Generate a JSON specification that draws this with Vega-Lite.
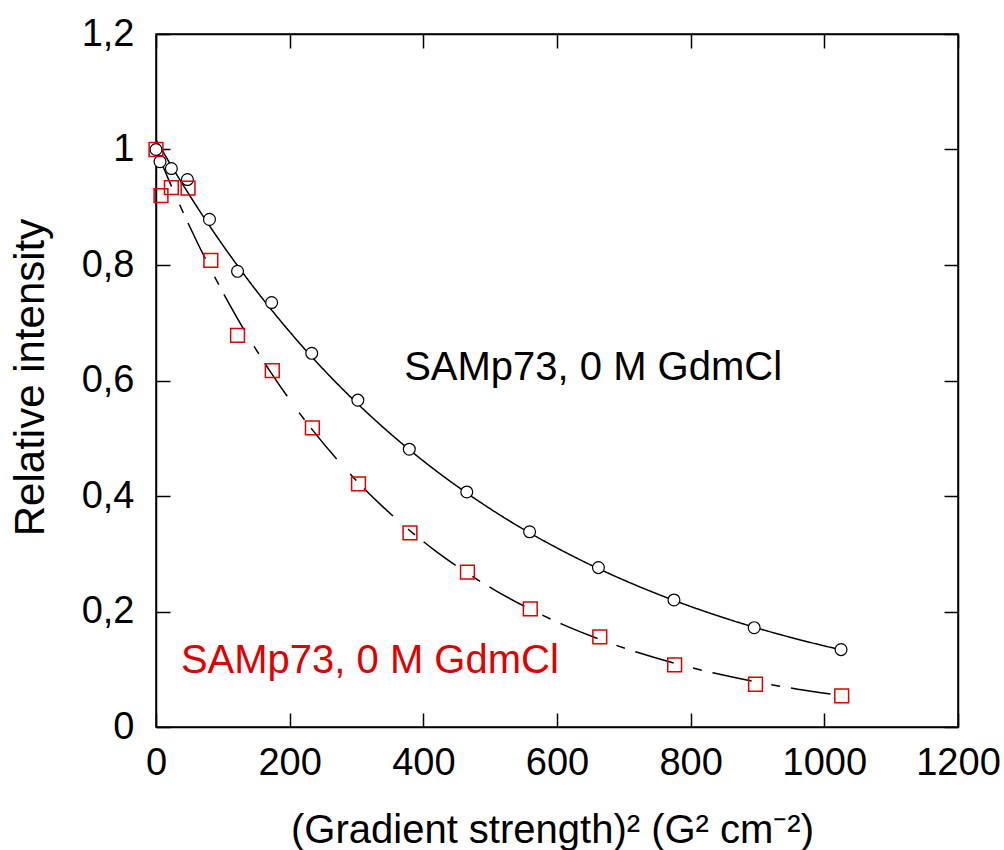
{
  "$schema": "https://vega.github.io/schema/vega-lite/v6.json",
  "width": 802,
  "height": 693,
  "autosize": {"type": "none"},
  "padding": {"left": 156, "top": 34, "right": 46, "bottom": 123},
  "background": "white",
  "config": {
    "view": {"stroke": "black", "strokeWidth": 1.5},
    "font": "Liberation Sans",
    "axis": {"grid": false, "labelFont": "Liberation Sans", "titleFont": "Liberation Sans", "labelColor": "black", "titleColor": "black", "domainColor": "black", "domainWidth": 1.5, "tickColor": "black", "tickWidth": 1.5}
  },
  "datasets": {
    "points": [
      {"g2": 0, "intensity": 1.0, "series": "circle"},
      {"g2": 6, "intensity": 0.979, "series": "circle"},
      {"g2": 23, "intensity": 0.967, "series": "circle"},
      {"g2": 47, "intensity": 0.948, "series": "circle"},
      {"g2": 80, "intensity": 0.879, "series": "circle"},
      {"g2": 122, "intensity": 0.789, "series": "circle"},
      {"g2": 173, "intensity": 0.735, "series": "circle"},
      {"g2": 233, "intensity": 0.647, "series": "circle"},
      {"g2": 302, "intensity": 0.566, "series": "circle"},
      {"g2": 379, "intensity": 0.481, "series": "circle"},
      {"g2": 465, "intensity": 0.407, "series": "circle"},
      {"g2": 559, "intensity": 0.338, "series": "circle"},
      {"g2": 662, "intensity": 0.276, "series": "circle"},
      {"g2": 775, "intensity": 0.22, "series": "circle"},
      {"g2": 895, "intensity": 0.172, "series": "circle"},
      {"g2": 1025, "intensity": 0.134, "series": "circle"},
      {"g2": 0, "intensity": 1.0, "series": "square"},
      {"g2": 7.5, "intensity": 0.92, "series": "square"},
      {"g2": 23, "intensity": 0.934, "series": "square"},
      {"g2": 48, "intensity": 0.933, "series": "square"},
      {"g2": 82, "intensity": 0.808, "series": "square"},
      {"g2": 122, "intensity": 0.678, "series": "square"},
      {"g2": 174, "intensity": 0.617, "series": "square"},
      {"g2": 234, "intensity": 0.518, "series": "square"},
      {"g2": 303, "intensity": 0.421, "series": "square"},
      {"g2": 380, "intensity": 0.336, "series": "square"},
      {"g2": 466, "intensity": 0.268, "series": "square"},
      {"g2": 560, "intensity": 0.2045, "series": "square"},
      {"g2": 664, "intensity": 0.156, "series": "square"},
      {"g2": 776, "intensity": 0.1075, "series": "square"},
      {"g2": 897, "intensity": 0.074, "series": "square"},
      {"g2": 1026, "intensity": 0.054, "series": "square"}
    ],
    "fit": [
      {"g2": 0, "fit": 1.017, "series": "circle"},
      {"g2": 20, "fit": 0.9775, "series": "circle"},
      {"g2": 40, "fit": 0.9396, "series": "circle"},
      {"g2": 60, "fit": 0.9031, "series": "circle"},
      {"g2": 80, "fit": 0.868, "series": "circle"},
      {"g2": 100, "fit": 0.8343, "series": "circle"},
      {"g2": 122, "fit": 0.7988, "series": "circle"},
      {"g2": 150, "fit": 0.7557, "series": "circle"},
      {"g2": 174, "fit": 0.7206, "series": "circle"},
      {"g2": 200, "fit": 0.6844, "series": "circle"},
      {"g2": 233, "fit": 0.6411, "series": "circle"},
      {"g2": 270, "fit": 0.5958, "series": "circle"},
      {"g2": 302, "fit": 0.5593, "series": "circle"},
      {"g2": 340, "fit": 0.5188, "series": "circle"},
      {"g2": 380, "fit": 0.4793, "series": "circle"},
      {"g2": 420, "fit": 0.4428, "series": "circle"},
      {"g2": 465, "fit": 0.4051, "series": "circle"},
      {"g2": 510, "fit": 0.3705, "series": "circle"},
      {"g2": 559, "fit": 0.3362, "series": "circle"},
      {"g2": 610, "fit": 0.304, "series": "circle"},
      {"g2": 663, "fit": 0.2737, "series": "circle"},
      {"g2": 720, "fit": 0.2445, "series": "circle"},
      {"g2": 775, "fit": 0.2193, "series": "circle"},
      {"g2": 835, "fit": 0.1947, "series": "circle"},
      {"g2": 896, "fit": 0.1725, "series": "circle"},
      {"g2": 960, "fit": 0.152, "series": "circle"},
      {"g2": 1025, "fit": 0.1336, "series": "circle"},
      {"g2": 0, "fit": 1.0, "series": "square"},
      {"g2": 20, "fit": 0.9448, "series": "square"},
      {"g2": 40, "fit": 0.8926, "series": "square"},
      {"g2": 60, "fit": 0.8433, "series": "square"},
      {"g2": 80, "fit": 0.7968, "series": "square"},
      {"g2": 100, "fit": 0.7528, "series": "square"},
      {"g2": 122, "fit": 0.7072, "series": "square"},
      {"g2": 150, "fit": 0.6531, "series": "square"},
      {"g2": 174, "fit": 0.6101, "series": "square"},
      {"g2": 200, "fit": 0.5667, "series": "square"},
      {"g2": 234, "fit": 0.5145, "series": "square"},
      {"g2": 270, "fit": 0.4645, "series": "square"},
      {"g2": 302, "fit": 0.4241, "series": "square"},
      {"g2": 340, "fit": 0.3808, "series": "square"},
      {"g2": 380, "fit": 0.3399, "series": "square"},
      {"g2": 420, "fit": 0.3033, "series": "square"},
      {"g2": 466, "fit": 0.2662, "series": "square"},
      {"g2": 510, "fit": 0.235, "series": "square"},
      {"g2": 560, "fit": 0.2039, "series": "square"},
      {"g2": 610, "fit": 0.1769, "series": "square"},
      {"g2": 663, "fit": 0.1521, "series": "square"},
      {"g2": 720, "fit": 0.1294, "series": "square"},
      {"g2": 776, "fit": 0.1104, "series": "square"},
      {"g2": 835, "fit": 0.0934, "series": "square"},
      {"g2": 896, "fit": 0.0785, "series": "square"},
      {"g2": 960, "fit": 0.0655, "series": "square"},
      {"g2": 1026, "fit": 0.0543, "series": "square"}
    ],
    "labels": [
      {"label": "SAMp73, 0 M GdmCl", "g2": 654, "intensity": 0.601, "series": "circle"},
      {"label": "SAMp73, 0 M GdmCl", "g2": 320, "intensity": 0.093, "series": "square"}
    ]
  },
  "resolve": {"axis": {"x": "independent", "y": "independent"}},
  "layer": [
    {
      "data": {"name": "fit"},
      "mark": {"type": "line", "interpolate": "monotone", "strokeWidth": 1.5, "color": "black"},
      "encoding": {
        "x": {"field": "g2", "type": "quantitative", "scale": {"domain": [0, 1200], "nice": false},
          "axis": {"orient": "bottom", "values": [0, 200, 400, 600, 800, 1000, 1200], "format": "d", "tickSize": -14, "labelFontSize": 38, "labelPadding": 31, "labelFlush": false, "labelOverlap": false,
            "title": "(Gradient strength)² (G² cm⁻²)", "titleFontSize": 40, "titleFontWeight": "normal", "titleX": 396, "titleY": 115, "titleBaseline": "alphabetic", "titleAlign": "center", "titleAnchor": null}},
        "y": {"field": "fit", "type": "quantitative", "scale": {"domain": [0, 1.2], "nice": false},
          "axis": {"orient": "left", "values": [0, 0.2, 0.4, 0.6, 0.8, 1, 1.2], "tickSize": -14, "labelFontSize": 38, "labelPadding": 36, "labelFlush": false, "labelOverlap": false,
            "labelExpr": "replace(format(datum.value, '.1~f'), '.', ',')",
            "title": "Relative intensity", "titleFontSize": 42, "titleFontWeight": "normal", "titleAngle": 270, "titleX": -113, "titleY": 343, "titleBaseline": "alphabetic", "titleAlign": "center"}},
        "strokeDash": {"field": "series", "type": "nominal", "scale": {"domain": ["circle", "square"], "range": [[1, 0], [40, 20, 9, 11]]}, "legend": null}
      }
    },
    {
      "data": {"name": "points"},
      "transform": [{"filter": "datum.series === 'circle'"}],
      "mark": {"type": "point", "shape": "circle", "size": 140, "stroke": "black", "fill": "white", "strokeWidth": 1.2, "opacity": 1, "fillOpacity": 1},
      "encoding": {
        "x": {"field": "g2", "type": "quantitative", "axis": null},
        "y": {"field": "intensity", "type": "quantitative", "axis": null}
      }
    },
    {
      "data": {"name": "points"},
      "transform": [{"filter": "datum.series === 'square'"}],
      "mark": {"type": "point", "shape": "square", "size": 190, "stroke": "#e00000", "filled": false, "strokeWidth": 1.5, "opacity": 1},
      "encoding": {
        "x": {"field": "g2", "type": "quantitative",
          "axis": {"orient": "top", "values": [0, 200, 400, 600, 800, 1000, 1200], "tickSize": -14, "labels": false, "title": null}},
        "y": {"field": "intensity", "type": "quantitative",
          "axis": {"orient": "right", "values": [0, 0.2, 0.4, 0.6, 0.8, 1, 1.2], "tickSize": -14, "labels": false, "title": null}}
      }
    },
    {
      "data": {"name": "labels"},
      "mark": {"type": "text", "font": "Liberation Sans", "fontSize": 40, "align": "center", "baseline": "alphabetic"},
      "encoding": {
        "x": {"field": "g2", "type": "quantitative", "axis": null},
        "y": {"field": "intensity", "type": "quantitative", "axis": null},
        "text": {"field": "label", "type": "nominal"},
        "color": {"field": "series", "type": "nominal", "scale": {"domain": ["circle", "square"], "range": ["black", "#e00000"]}, "legend": null}
      }
    }
  ]
}
